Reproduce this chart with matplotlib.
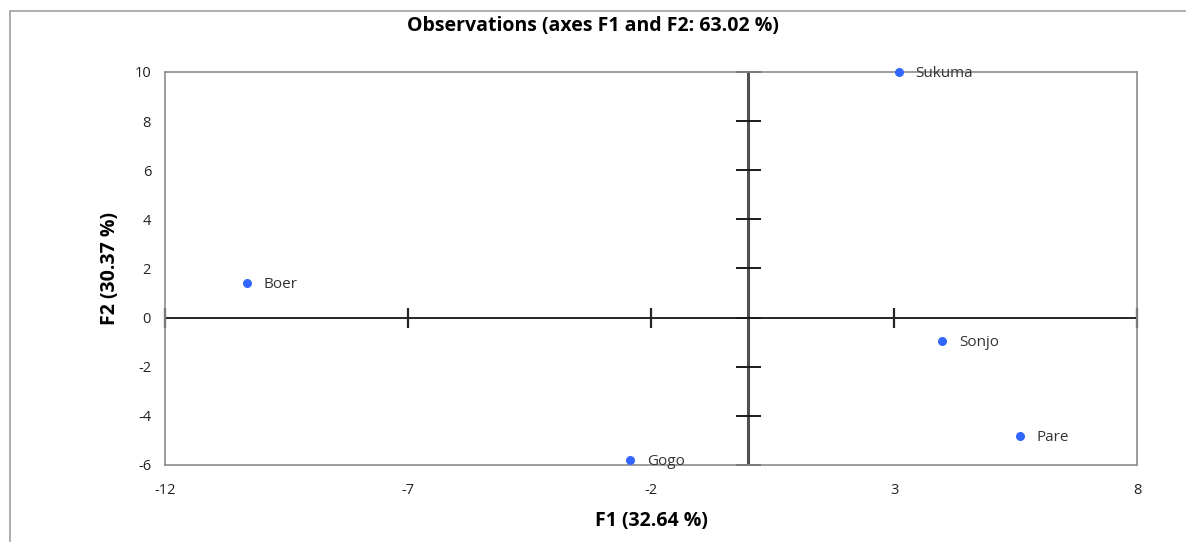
import matplotlib.pyplot as plt
from matplotlib.patches import Rectangle

names = ['Sukuma', 'Boer', 'Sonjo', 'Pare', 'Gogo']
f1 = [3.10, -10.31, 3.99, 5.59, -2.43]
f2 = [10.0, 1.41, -0.95, -4.82, -5.80]

xticks = [-12, -7, -2, 3, 8]
yticks = [-6, -4, -2, 0, 2, 4, 6, 8, 10]

plt.rcParams['font.family'] = ['Open Sans', 'DejaVu Sans']
plt.rcParams['axes.unicode_minus'] = False

fig = plt.figure(figsize=(11.86, 5.42), dpi=100)
ax = fig.add_axes([0.1391, 0.1421, 0.8196, 0.7251])

# outer chart border (bottom and right run off the image)
fig.patches.append(Rectangle((10 / 1186, -0.1), 1.2, 1.1 - 11 / 542,
                             transform=fig.transFigure, fill=False,
                             edgecolor='#a0a0a0', linewidth=1.2))

ax.set_xlim(-12, 8)
ax.set_ylim(-6, 10)
ax.set_xticks(xticks)
ax.set_yticks(yticks)
ax.tick_params(length=0, labelsize=10.5, labelcolor='#222222')
ax.tick_params(axis='x', pad=13)
ax.tick_params(axis='y', pad=10)
for s in ax.spines.values():
    s.set_color('#8c8c8c')
    s.set_linewidth(1.2)

# axes through origin with crossing ticks
ax.axhline(0, color='#262626', linewidth=1.4, zorder=1)
ax.axvline(0, color='#505050', linewidth=2.2, zorder=1)
ax.plot(xticks, [0] * len(xticks), linestyle='none', marker='|',
        markersize=14, markeredgewidth=1.6, color='#262626', clip_on=False, zorder=1)
ax.plot([0] * len(yticks), yticks, linestyle='none', marker='_',
        markersize=18, markeredgewidth=1.4, color='#1a1a1a', clip_on=False, zorder=1)

ax.scatter(f1, f2, s=30, color='#3366ff', zorder=3, clip_on=False)
for n, x, y in zip(names, f1, f2):
    ax.annotate(n, (x, y), xytext=(12, -1), textcoords='offset points',
                va='center', ha='left', fontsize=11, color='#333333')

ax.set_xlabel('F1 (32.64 %)', fontsize=14, fontweight='bold', labelpad=9)
ax.set_ylabel('F2 (30.37 %)', fontsize=14, fontweight='bold', labelpad=10)
fig.text(0.5, 1 - 26 / 542, 'Observations (axes F1 and F2: 63.02 %)',
         ha='center', va='center', fontsize=14, fontweight='bold')

fig.savefig('out.png', dpi=100)
